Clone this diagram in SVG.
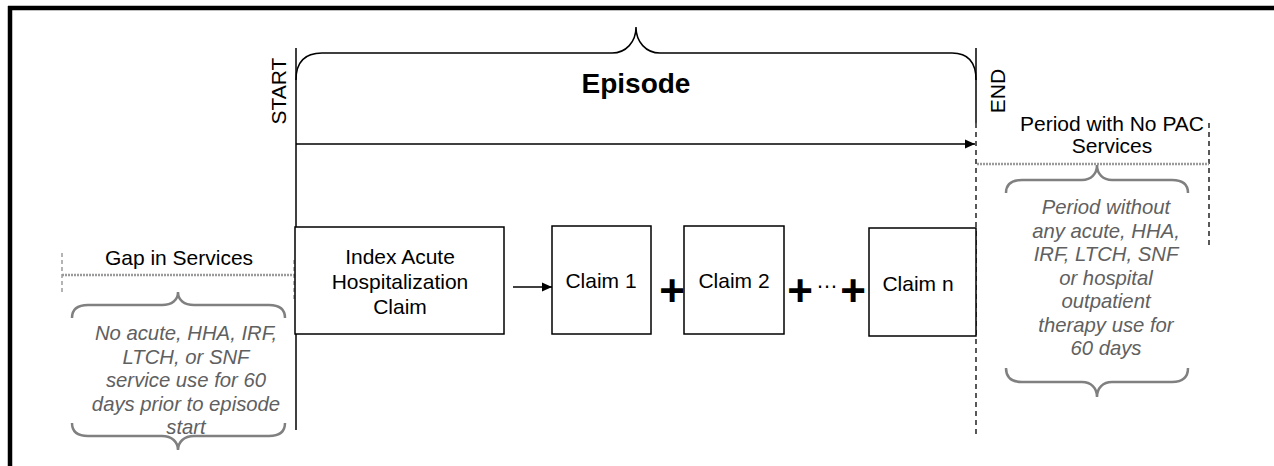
<svg xmlns="http://www.w3.org/2000/svg" width="1274" height="466" viewBox="0 0 1274 466">
<style>
  .t{font-family:"Liberation Sans",Arial,sans-serif;font-size:21px;fill:#000;text-anchor:middle}
  .it{font-family:"Liberation Sans",Arial,sans-serif;font-size:20.3px;font-style:italic;fill:#606060;text-anchor:middle}
  .box{fill:#fff;stroke:#000;stroke-width:1.5}
  .ln{fill:none;stroke:#000;stroke-width:1.5}
  .dash{fill:none;stroke:#000;stroke-width:1.3;stroke-dasharray:5 4}
  .gdash{fill:none;stroke:#8c8c8c;stroke-width:1.3;stroke-dasharray:4 3}
  .wave{fill:none;stroke:#9a9a9a;stroke-width:2.4;stroke-dasharray:2 1}
  .brace{fill:none;stroke:#808080;stroke-width:2.5}
  .plus{font-family:"Liberation Sans",Arial,sans-serif;font-size:44px;font-weight:bold;fill:#000;text-anchor:middle}
</style>
<defs>
  <marker id="ah" markerWidth="10" markerHeight="10" refX="10" refY="5" orient="auto" markerUnits="userSpaceOnUse">
    <path d="M0,0.5 L10,5 L0,9.5 Z" fill="#000"/>
  </marker>
</defs>
<rect width="1274" height="466" fill="#fff"/>
<g id="frame">
  <line x1="8" y1="8" x2="1274" y2="8" stroke="#000" stroke-width="4.5"/>
  <line x1="10" y1="6" x2="10" y2="466" stroke="#000" stroke-width="4.5"/>
</g>
<g id="connectors">
  <line class="ln" x1="296" y1="48" x2="296" y2="430"/>
  <line class="ln" x1="976" y1="48" x2="976" y2="123"/>
  <line class="dash" x1="976" y1="123" x2="976" y2="438"/>
  <path class="ln" d="M296,80 C296,62 304,53 322,53 L612,53 C626,53 636,42 636,27 C636,42 646,53 660,53 L952,53 C968,53 976,62 976,80"/>
  <line class="ln" x1="296" y1="144" x2="975" y2="144" marker-end="url(#ah)"/>
  <line class="ln" x1="513" y1="287" x2="552" y2="287" marker-end="url(#ah)"/>
  <line class="gdash" x1="62" y1="253" x2="62" y2="293"/>
  <line class="gdash" x1="294" y1="260" x2="294" y2="300"/>
  <line class="wave" x1="62" y1="275" x2="295" y2="275"/>
  <line class="dash" x1="1209" y1="123" x2="1209" y2="248"/>
  <line class="wave" x1="977" y1="164" x2="1209" y2="164"/>
</g>
<g id="start-label"><text class="t" transform="translate(286,91) rotate(-90)">START</text></g>
<g id="end-label"><text class="t" transform="translate(1005,91) rotate(-90)">END</text></g>
<g id="episode"><text class="t" x="636" y="93" style="font-size:28px;font-weight:bold">Episode</text></g>
<g id="index-claim">
  <rect class="box" x="295" y="227" width="209" height="107"/>
  <text class="t" x="400" y="264">Index Acute</text>
  <text class="t" x="400" y="289">Hospitalization</text>
  <text class="t" x="400" y="314">Claim</text>
</g>
<g id="claim1">
  <rect class="box" x="552" y="226" width="99" height="108"/>
  <text class="t" x="601" y="288">Claim 1</text>
</g>
<g id="claim2">
  <rect class="box" x="684" y="226" width="100" height="108"/>
  <text class="t" x="734" y="288">Claim 2</text>
</g>
<g id="claimn">
  <rect class="box" x="869" y="228" width="107" height="108"/>
  <text class="t" x="918" y="291">Claim n</text>
</g>
<g id="operators">
  <text class="plus" x="672" y="306">+</text>
  <text class="plus" x="800" y="306">+</text>
  <text class="t" x="827" y="288" style="font-size:22px">…</text>
  <text class="plus" x="853" y="306">+</text>
</g>
<g id="gap-in-services">
  <text class="t" x="179" y="265">Gap in Services</text>
  <path class="brace" d="M72,318 C72,309 77,305 88,305 L162,305 C172,305 178,300 178,292 C178,300 184,305 194,305 L269,305 C280,305 285,309 285,318"/>
  <text class="it" x="186" y="340">No acute, HHA, IRF,</text>
  <text class="it" x="186" y="364">LTCH, or SNF</text>
  <text class="it" x="186" y="387">service use for 60</text>
  <text class="it" x="186" y="411">days prior to episode</text>
  <text class="it" x="186" y="434">start</text>
  <path class="brace" d="M72,423 C72,432 77,436 88,436 L162,436 C172,436 178,442 178,450 C178,442 184,436 194,436 L269,436 C280,436 285,432 285,423"/>
</g>
<g id="no-pac-period">
  <text class="t" x="1112" y="131">Period with No PAC</text>
  <text class="t" x="1112" y="153">Services</text>
  <path class="brace" d="M1006,193 C1006,184 1011,180 1022,180 L1082,180 C1091,180 1097,174 1097,165 C1097,174 1103,180 1112,180 L1172,180 C1183,180 1188,184 1188,193"/>
  <text class="it" x="1106" y="214">Period without</text>
  <text class="it" x="1106" y="238">any acute, HHA,</text>
  <text class="it" x="1106" y="261">IRF, LTCH, SNF</text>
  <text class="it" x="1106" y="285">or hospital</text>
  <text class="it" x="1106" y="308">outpatient</text>
  <text class="it" x="1106" y="332">therapy use for</text>
  <text class="it" x="1106" y="355">60 days</text>
  <path class="brace" d="M1006,368 C1006,377 1011,382 1022,382 L1082,382 C1091,382 1097,388 1097,397 C1097,388 1103,382 1112,382 L1172,382 C1183,382 1188,377 1188,368"/>
</g>
</svg>
